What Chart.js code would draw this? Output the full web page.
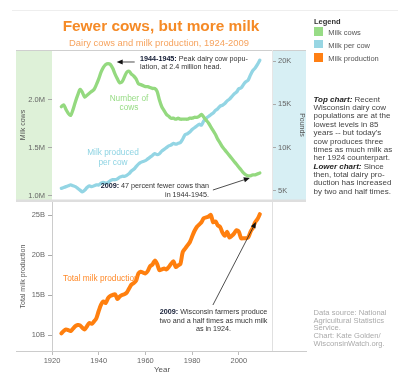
<!DOCTYPE html>
<html><head><meta charset="utf-8">
<script src="https://cdn.jsdelivr.net/npm/chart.js@4/dist/chart.umd.min.js"></script>
<style>
html,body{margin:0;padding:0;background:#fff;}
body{width:400px;height:382px;position:relative;overflow:hidden;font-family:Arial,"Liberation Sans",sans-serif;}
canvas{position:absolute;left:0;top:0;}
.t{position:absolute;white-space:nowrap;}
.ann{font-size:7.2px;color:#333;}
.ann b{color:#111a33;}
.side{font-size:8px;line-height:8.35px;color:#444;left:313.5px;top:95.8px;}
.side i{font-weight:bold;color:#222;}
.src{font-size:7.6px;line-height:7.6px;color:#aaa;left:313.5px;top:309.3px;}
.leg{font-size:7.5px;color:#555;}
.sw{position:absolute;width:9px;height:8.4px;}
</style></head><body>
<div style="position:absolute;left:12px;top:10px;width:386px;height:1px;background:#eee"></div>
<canvas id="topChart" width="400" height="382"></canvas>
<canvas id="botChart" width="400" height="382"></canvas>

<div class="t" style="left:0;width:322px;text-align:center;top:17.4px;font-size:15.4px;line-height:18px;font-weight:bold;color:#f58a26">Fewer cows, but more milk</div>
<div class="t" style="left:0;width:318px;text-align:center;top:36.9px;font-size:9.4px;line-height:11px;color:#f6a35e">Dairy cows and milk production, 1924-2009</div>

<div class="t leg" style="left:314px;top:16.6px;line-height:9px;font-weight:bold;color:#333">Legend</div>
<div class="sw" style="left:314.3px;top:27.3px;background:#98dc86"></div>
<div class="t leg" style="left:328.3px;top:28.4px;line-height:9px">Milk cows</div>
<div class="sw" style="left:314.3px;top:40px;background:#98d6e3"></div>
<div class="t leg" style="left:328.3px;top:40.8px;line-height:9px">Milk per cow</div>
<div class="sw" style="left:314.3px;top:53.3px;background:#ff7f13"></div>
<div class="t leg" style="left:328.3px;top:53.6px;line-height:9px">Milk production</div>

<div class="t side"><i>Top chart:</i> Recent<br>Wisconsin dairy cow<br>populations are at the<br>lowest levels in 85<br>years -- but today's<br>cow produces three<br>times as much milk as<br>her 1924 counterpart.<br><i>Lower chart:</i> Since<br>then, total dairy pro-<br>duction has increased<br>by two and half times.</div>
<div class="t src">Data source: National<br>Agricultural Statistics<br>Service.<br>Chart: Kate Golden/<br>WisconsinWatch.org.</div>

<div class="t ann" style="left:140px;top:54.7px;line-height:8px"><b>1944-1945:</b> Peak dairy cow popu-<br>lation, at 2.4 million head.</div>
<div class="t" style="left:79px;width:100px;text-align:center;top:94.4px;font-size:8.3px;line-height:9px;color:#98dc86">Number of<br>cows</div>
<div class="t" style="left:63px;width:100px;text-align:center;top:148.4px;font-size:8.3px;line-height:9.4px;color:#8fd4e3">Milk produced<br>per cow</div>
<div class="t ann" style="right:191px;text-align:right;top:181.2px;line-height:9px"><b>2009:</b> 47 percent fewer cows than<br>in 1944-1945.</div>
<div class="t" style="left:63px;top:274.4px;font-size:8.3px;line-height:9px;color:#ff8a2a">Total milk production</div>
<div class="t ann" style="left:143.5px;width:140px;text-align:center;top:308.3px;line-height:8.3px"><b>2009:</b> Wisconsin farmers produce<br>two and a half times as much milk<br>as in 1924.</div>

<script>
const years = [1924,1925,1926,1927,1928,1929,1930,1931,1932,1933,
1934,1935,1936,1937,1938,1939,1940,1941,1942,1943,
1944,1945,1946,1947,1948,1949,1950,1951,1952,1953,
1954,1955,1956,1957,1958,1959,1960,1961,1962,1963,
1964,1965,1966,1967,1968,1969,1970,1971,1972,1973,
1974,1975,1976,1977,1978,1979,1980,1981,1982,1983,
1984,1985,1986,1987,1988,1989,1990,1991,1992,1993,
1994,1995,1996,1997,1998,1999,2000,2001,2002,2003,
2004,2005,2006,2007,2008,2009];
// Milk cows, millions of head
const milkCows = [1.93,1.95,1.90,1.86,1.84,1.90,1.98,2.05,2.11,2.08,
2.03,2.05,2.07,2.09,2.11,2.16,2.22,2.29,2.34,2.37,
2.38,2.37,2.33,2.27,2.22,2.18,2.19,2.24,2.29,2.30,
2.27,2.25,2.22,2.17,2.16,2.15,2.14,2.14,2.13,2.12,
2.12,2.09,2.00,1.93,1.89,1.85,1.83,1.81,1.81,1.80,
1.81,1.80,1.80,1.80,1.80,1.81,1.81,1.82,1.82,1.83,
1.85,1.82,1.79,1.76,1.72,1.68,1.64,1.59,1.55,1.51,
1.48,1.45,1.42,1.39,1.36,1.33,1.30,1.27,1.24,1.22,
1.21,1.21,1.22,1.22,1.23,1.24];
// Milk per cow, thousands of pounds
const milkPerCow = [5.3,5.4,5.5,5.6,5.7,5.6,5.5,5.3,5.1,4.9,
5.1,5.4,5.6,5.5,5.6,5.7,5.7,5.9,6.0,5.9,
6.0,6.2,6.3,6.3,6.4,6.6,6.7,6.7,6.8,7.0,
7.3,7.5,7.8,8.1,8.3,8.4,8.5,8.7,8.9,9.1,
9.3,9.2,9.3,9.6,9.8,10.0,10.2,10.3,10.5,10.4,
10.5,10.6,11.0,11.5,11.6,11.8,12.1,12.3,12.5,12.7,
12.6,13.1,13.4,13.6,13.8,14.0,14.3,14.5,14.8,14.9,
15.1,15.4,15.6,15.9,16.2,16.4,16.8,16.9,17.3,17.6,
17.8,18.4,18.9,19.2,19.6,20.1];
// Total milk production, billions of pounds
const milkProduction = [10.2,10.5,10.7,10.6,10.5,10.8,11.1,11.25,11.2,10.9,
10.7,11.1,11.5,11.4,11.7,12.1,13.0,13.8,14.2,14.0,
14.6,14.9,15.0,15.1,14.5,14.8,15.0,15.1,15.3,15.8,
16.3,16.5,16.8,17.7,17.9,17.8,17.7,18.0,18.6,18.8,
19.3,18.9,18.1,18.2,18.3,18.2,18.5,18.9,19.2,18.5,
18.7,18.9,20.4,20.8,21.2,21.6,22.3,23.0,23.5,23.8,
24.1,24.6,24.7,24.8,25.0,24.1,24.2,23.7,23.5,22.8,
22.4,22.9,22.2,22.4,22.7,23.1,22.9,22.1,22.1,22.1,
22.2,22.9,23.4,24.1,24.5,25.1];

const cowTicks = [1.0, 1.5, 2.0];
const perCowTicks = [5, 10, 15, 20];
const prodTicks = [10, 15, 20, 25];
const yearTicks = [1920, 1940, 1960, 1980, 2000];

// annotation arrows in data coordinates [year, value]
const peakArrow = {from:[1955.4, 2.396], to:[1947.7, 2.396]};
const fewerArrow = {from:[1988.9, 1.062], to:[2004.7, 1.188]};
const prodArrow = {from:[1988.9, 13.75], to:[2007.3, 24.12]};

const GREEN = '#94d97f', BLUE = '#93d5e4', ORANGE = '#ff7f0e';
Chart.defaults.font.family = 'Arial, "Liberation Sans", sans-serif';

function pts(vals){ return years.map((yr,i)=>({x:yr, y:vals[i]})); }
function setTicks(list){ return s => { s.ticks = list.map(v=>({value:v})); }; }

function arrow(ctx, x1, y1, x2, y2){
  const a = Math.atan2(y2-y1, x2-x1), L = 6, W = 2.6;
  ctx.save();
  ctx.strokeStyle = '#222'; ctx.fillStyle = '#111'; ctx.lineWidth = 0.8;
  ctx.beginPath(); ctx.moveTo(x1,y1);
  ctx.lineTo(x2 - L*0.8*Math.cos(a), y2 - L*0.8*Math.sin(a)); ctx.stroke();
  ctx.beginPath(); ctx.moveTo(x2,y2);
  ctx.lineTo(x2 - L*Math.cos(a) + W*Math.sin(a), y2 - L*Math.sin(a) - W*Math.cos(a));
  ctx.lineTo(x2 - L*Math.cos(a) - W*Math.sin(a), y2 - L*Math.sin(a) + W*Math.cos(a));
  ctx.closePath(); ctx.fill();
  ctx.restore();
}
function drawArr(chart, ar, yId){
  const x = chart.scales.x, y = chart.scales[yId];
  arrow(chart.ctx, x.getPixelForValue(ar.from[0]), y.getPixelForValue(ar.from[1]),
        x.getPixelForValue(ar.to[0]), y.getPixelForValue(ar.to[1]));
}

const topDecor = {
  id:'topDecor',
  beforeDraw(chart){
    const c = chart.ctx, a = chart.chartArea, yl = chart.scales.y, yr = chart.scales.y2;
    c.save();
    c.fillStyle = '#def1d8'; c.fillRect(yl.left, a.top, yl.right - yl.left, a.bottom - a.top);
    c.fillStyle = '#d7eff4'; c.fillRect(yr.left, a.top, yr.right - yr.left, a.bottom - a.top);
    c.restore();
  },
  afterDraw(chart){
    const c = chart.ctx, a = chart.chartArea, yl = chart.scales.y, yr = chart.scales.y2;
    c.save();
    c.fillStyle = '#cfcfcf'; c.fillRect(yl.left, a.top, yr.right - yl.left, 1);
    c.fillStyle = '#e6e6e6'; c.fillRect(a.right, a.top, 1, a.bottom - a.top);
    c.fillStyle = '#dedede'; c.fillRect(yl.left, a.bottom - 0.5, yr.right - yl.left, 2.5);
    c.restore();
    drawArr(chart, peakArrow, 'y');
    drawArr(chart, fewerArrow, 'y');
  }
};
const botDecor = {
  id:'botDecor',
  afterDraw(chart){
    const c = chart.ctx, a = chart.chartArea, yl = chart.scales.y;
    c.save();
    c.fillStyle = '#e0e0e0'; c.fillRect(a.right, a.top, 1, a.bottom - a.top);
    c.fillStyle = '#cccccc'; c.fillRect(yl.left, a.bottom, a.left - yl.left, 1);
    c.fillRect(a.right, a.bottom, 35, 1);
    c.restore();
    drawArr(chart, prodArrow, 'y');
  }
};

const tickFont = {size:7.5};
const titleFont = {size:7};

new Chart(document.getElementById('topChart'), {
  type:'line',
  data:{datasets:[
    {label:'Milk cows', data:pts(milkCows), yAxisID:'y', borderColor:GREEN, borderWidth:3.3,
     pointRadius:0, tension:0.3, fill:false, borderJoinStyle:'round', borderCapStyle:'round'},
    {label:'Milk per cow', data:pts(milkPerCow), yAxisID:'y2', borderColor:BLUE, borderWidth:3.3,
     pointRadius:0, tension:0.3, fill:false, borderJoinStyle:'round', borderCapStyle:'round'}
  ]},
  options:{
    responsive:false, animation:false, events:[],
    layout:{padding:{left:16, top:50, right:94, bottom:182}},
    plugins:{legend:{display:false}, tooltip:{enabled:false}},
    scales:{
      x:{type:'linear', min:1920, max:2014.2, display:false},
      y:{position:'left', min:0.958, max:2.521, afterBuildTicks:setTicks(cowTicks),
         afterFit:s=>{s.width=36;},
         ticks:{callback:v=>v.toFixed(1)+'M', font:tickFont, color:'#666', padding:3},
         grid:{drawOnChartArea:false, tickLength:4, color:'#aaa'},
         border:{display:false},
         title:{display:true, text:'Milk cows', font:titleFont, color:'#555', padding:{top:3,bottom:0}}},
      y2:{position:'right', min:3.96, max:21.27, afterBuildTicks:setTicks(perCowTicks),
         afterFit:s=>{s.width=34;},
         ticks:{callback:v=>v+'K', font:tickFont, color:'#666', padding:2},
         grid:{drawOnChartArea:false, tickLength:4, color:'#aaa'},
         border:{display:false},
         title:{display:true, text:'Pounds', font:titleFont, color:'#555', padding:{top:0,bottom:4}}}
    }
  },
  plugins:[topDecor]
});

new Chart(document.getElementById('botChart'), {
  type:'line',
  data:{datasets:[
    {label:'Milk production', data:pts(milkProduction), yAxisID:'y', borderColor:ORANGE, borderWidth:4,
     pointRadius:0, tension:0.3, fill:false, borderJoinStyle:'round', borderCapStyle:'round'}
  ]},
  options:{
    responsive:false, animation:false, events:[],
    layout:{padding:{left:16, top:202, right:128, bottom:0}},
    plugins:{legend:{display:false}, tooltip:{enabled:false}},
    scales:{
      x:{type:'linear', min:1920, max:2014.2, afterBuildTicks:setTicks(yearTicks),
         afterFit:s=>{s.height=31;},
         ticks:{callback:v=>String(v), font:tickFont, color:'#666', padding:1, maxRotation:0, autoSkip:false},
         grid:{drawOnChartArea:false, tickLength:4, color:'#bbb'},
         border:{color:'#ccc'},
         title:{display:true, text:'Year', font:{size:8}, color:'#555', padding:{top:2,bottom:7}}},
      y:{position:'left', min:8.0, max:26.625, afterBuildTicks:setTicks(prodTicks),
         afterFit:s=>{s.width=36;},
         ticks:{callback:v=>v+'B', font:tickFont, color:'#666', padding:3},
         grid:{drawOnChartArea:false, tickLength:4, color:'#aaa'},
         border:{color:'#ccc'},
         title:{display:true, text:'Total milk production', font:titleFont, color:'#555', padding:{top:3,bottom:0}}}
    }
  },
  plugins:[botDecor]
});
</script>
</body></html>
